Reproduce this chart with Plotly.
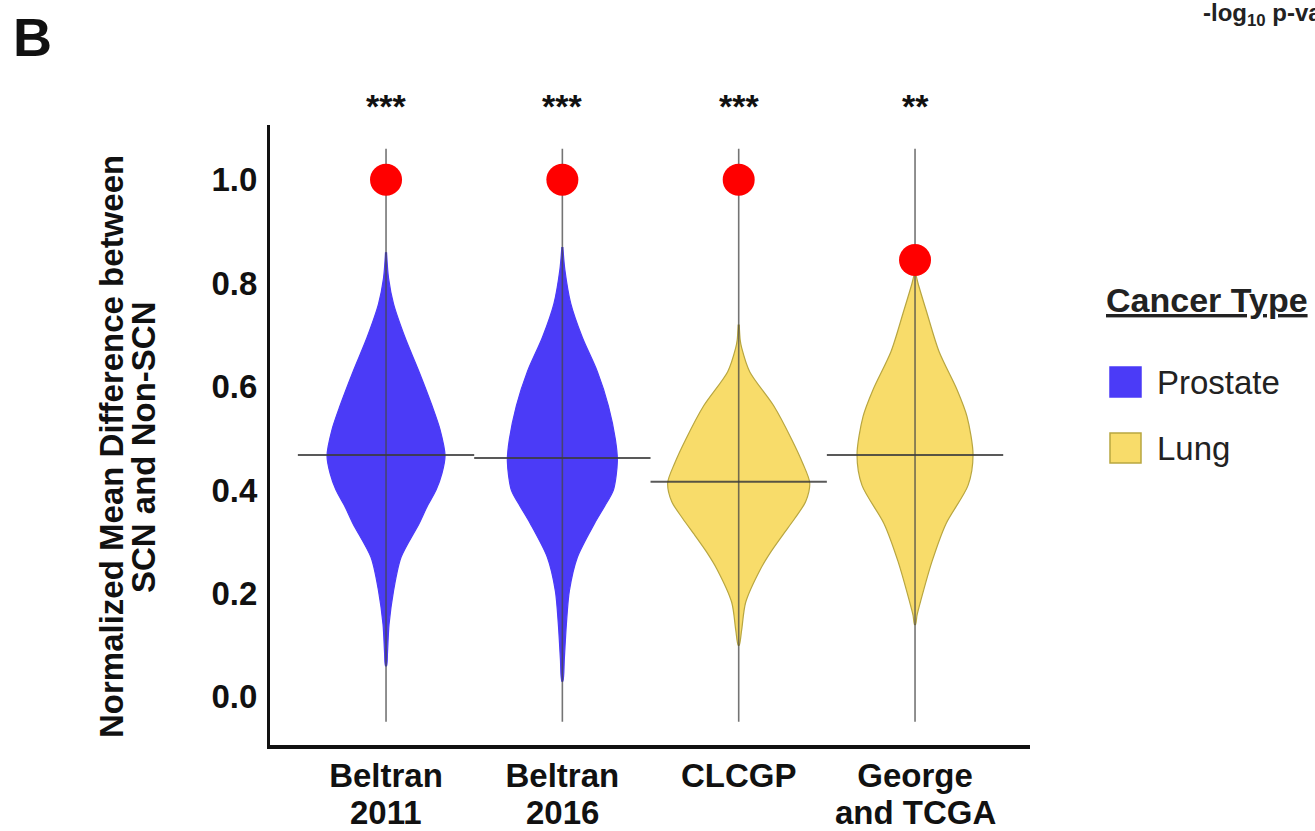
import plotly.graph_objects as go

# ---------------- data ----------------
categories = ["Beltran 2011", "Beltran 2016", "CLCGP", "George and TCGA"]
label_line1 = ["Beltran", "Beltran", "CLCGP", "George"]
label_line2 = ["2011", "2016", "", "and TCGA"]
cancer_type = ["Prostate", "Prostate", "Lung", "Lung"]
significance = ["***", "***", "***", "**"]
medians = [0.468, 0.462, 0.416, 0.468]
observed = [1.0, 1.0, 1.0, 0.845]
whisker_low = [-0.048, -0.048, -0.048, -0.048]
whisker_high = [1.06, 1.06, 1.06, 1.06]
y_ticks = [0.0, 0.2, 0.4, 0.6, 0.8, 1.0]
y_ticktext = ["0.0", "0.2", "0.4", "0.6", "0.8", "1.0"]

# violin outlines: value levels and relative density (half-width)
levels_b2011 = [0.86, 0.81, 0.76, 0.695, 0.629, 0.563, 0.517, 0.466, 0.433, 0.40, 0.368, 0.335, 0.27, 0.205, 0.14, 0.087, 0.06]
density_b2011 = [0.05, 0.25, 0.75, 1.9, 3.3, 4.6, 5.4, 5.9, 5.6, 5.0, 4.1, 3.3, 1.5, 0.75, 0.3, 0.15, 0.05]
levels_b2016 = [0.87, 0.826, 0.76, 0.695, 0.629, 0.563, 0.498, 0.456, 0.40, 0.368, 0.335, 0.27, 0.205, 0.14, 0.075, 0.03]
density_b2016 = [0.05, 0.25, 0.85, 2.0, 3.5, 4.6, 5.3, 5.5, 5.1, 4.2, 3.2, 1.5, 0.7, 0.4, 0.2, 0.05]
levels_clcgp = [0.72, 0.69, 0.675, 0.629, 0.563, 0.498, 0.452, 0.414, 0.378, 0.345, 0.313, 0.28, 0.248, 0.183, 0.13, 0.10]
density_clcgp = [0.05, 0.15, 0.3, 1.1, 3.5, 5.3, 6.4, 7.1, 6.7, 5.6, 4.4, 3.2, 2.2, 0.7, 0.3, 0.05]
levels_george = [0.82, 0.80, 0.742, 0.668, 0.594, 0.542, 0.468, 0.409, 0.335, 0.262, 0.188, 0.158, 0.14]
density_george = [0.05, 0.3, 1.2, 2.4, 4.2, 5.2, 5.8, 5.3, 3.1, 1.7, 0.6, 0.2, 0.05]

violin_levels = [levels_b2011, levels_b2016, levels_clcgp, levels_george]
violin_density = [density_b2011, density_b2016, density_clcgp, density_george]

legend_items = ["Prostate", "Lung"]
y_title_lines = ["Normalized Mean Difference between", "SCN and Non-SCN"]

# ---------------- style ----------------
FONT = "Arial, Liberation Sans, sans-serif"
fill_colors = {"Prostate": "#4B3BF7", "Lung": "#F8DC6A"}
line_colors = {"Prostate": "#4B3BF7", "Lung": "#B8A640"}
DENS_SCALE = 10 / 176.3   # density unit -> category units

W, H = 1315, 831
L, R, T, B = 270, 285, 125, 86
pw, ph = W - L - R, H - T - B
def px(x):
    return (x - L) / pw
def py(y):
    return (H - B - y) / ph

fig = go.Figure()

for i, cat in enumerate(categories):
    ct = cancer_type[i]
    lv = violin_levels[i]
    dn = violin_density[i]
    xs = [i + d * DENS_SCALE for d in dn] + [i - d * DENS_SCALE for d in dn[::-1]]
    ys = list(lv) + list(lv[::-1])
    fig.add_trace(go.Scatter(
        x=xs, y=ys, mode="lines", fill="toself",
        fillcolor=fill_colors[ct],
        line=dict(color=line_colors[ct], width=1.2, shape="spline", smoothing=0.8),
        showlegend=False, hoverinfo="skip", name=cat))

for i, cat in enumerate(categories):
    fig.add_trace(go.Scatter(
        x=[i, i], y=[whisker_low[i], whisker_high[i]], mode="lines",
        line=dict(color="rgba(70,70,70,0.75)", width=1.6),
        showlegend=False, hoverinfo="skip"))
    fig.add_trace(go.Scatter(
        x=[i - 0.5, i + 0.5], y=[medians[i], medians[i]], mode="lines",
        line=dict(color="rgba(60,60,60,0.85)", width=2),
        showlegend=False, hoverinfo="skip"))

fig.add_trace(go.Scatter(
    x=list(range(len(categories))), y=observed, mode="markers",
    marker=dict(color="#FF0000", size=32, line=dict(width=0)),
    showlegend=False, hoverinfo="skip"))

# significance stars
for i, s in enumerate(significance):
    fig.add_annotation(x=i, y=py(106), xref="x", yref="paper", text=s, showarrow=False,
                       font=dict(family=FONT, size=34, color="#111", weight="bold"),
                       yanchor="middle")

# second lines of category labels (tight line spacing as in reference)
for i, t in enumerate(label_line2):
    if t:
        fig.add_annotation(x=i, y=py(812), xref="x", yref="paper", text=t, showarrow=False,
                           font=dict(family=FONT, size=33, color="#111", weight="bold"),
                           yanchor="middle")

# y-axis title (two tight lines)
for txt, xc in zip(y_title_lines, [112, 144]):
    fig.add_annotation(x=px(xc), y=py(447), xref="paper", yref="paper", text=txt,
                       textangle=-90, showarrow=False,
                       font=dict(family=FONT, size=33, color="#111", weight="bold"),
                       xanchor="center", yanchor="middle")

# legend (manual)
fig.add_annotation(x=px(1104), y=py(300), xref="paper", yref="paper",
                   text="<b><u>Cancer Type</u></b>",
                   showarrow=False, font=dict(family=FONT, size=34, color="#222"),
                   xanchor="left", yanchor="middle")
for name, yc in zip(legend_items, [382, 448]):
    fig.add_shape(type="rect", xref="paper", yref="paper",
                  x0=px(1110), x1=px(1141), y0=py(yc + 15), y1=py(yc - 15),
                  fillcolor=fill_colors[name], line=dict(color=line_colors[name], width=1.5))
    fig.add_annotation(x=px(1155), y=py(yc), xref="paper", yref="paper", text=name,
                       showarrow=False, font=dict(family=FONT, size=33, color="#222"),
                       xanchor="left", yanchor="middle")

# panel letter and cut-off top-right label
fig.add_annotation(x=px(11), y=py(37), xref="paper", yref="paper", text="<b>B</b>",
                   showarrow=False, font=dict(family=FONT, size=54, color="#111"),
                   xanchor="left", yanchor="middle")
fig.add_annotation(x=px(1201), y=py(14), xref="paper", yref="paper",
                   text="<b>-log<sub>10</sub> p-value</b>",
                   showarrow=False, font=dict(family=FONT, size=24, color="#222"),
                   xanchor="left", yanchor="middle")

fig.update_layout(
    width=W, height=H,
    margin=dict(l=L, r=R, t=T, b=B, autoexpand=False),
    paper_bgcolor="white", plot_bgcolor="white",
    showlegend=False,
)

fig.update_xaxes(
    range=[-0.658, 3.652], tickvals=list(range(len(categories))), ticktext=label_line1,
    showgrid=False, zeroline=False, showline=True, linecolor="#111", linewidth=4,
    ticks="", ticklabelstandoff=-2, automargin=False,
    tickfont=dict(family=FONT, size=33, color="#111", weight="bold"),
)
fig.update_yaxes(
    range=[-0.093, 1.106], tickvals=y_ticks, ticktext=y_ticktext,
    showgrid=False, zeroline=False, showline=True, linecolor="#111", linewidth=3,
    ticks="", ticklabelstandoff=3, automargin=False,
    tickfont=dict(family=FONT, size=33, color="#111", weight="bold"),
)

fig.write_html("out.html", config={"displayModeBar": False},
               post_script="document.body.style.margin='0px';")
